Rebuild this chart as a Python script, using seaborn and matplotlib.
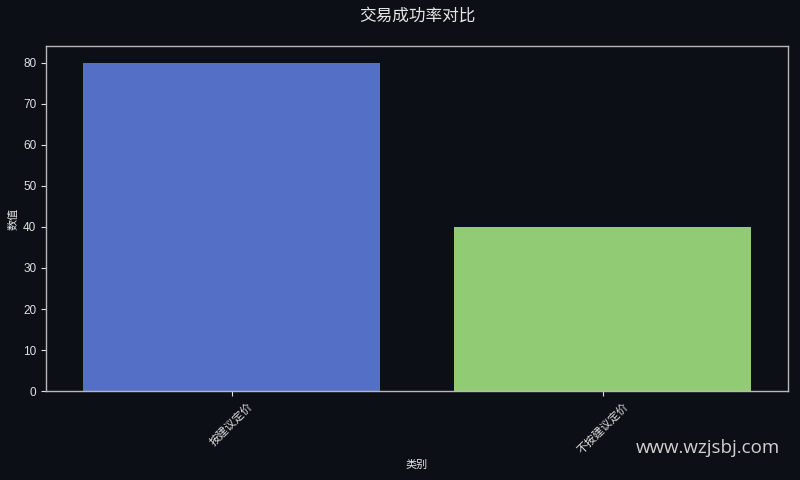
import pandas as pd
import matplotlib
matplotlib.use('Agg')
import matplotlib.pyplot as plt
import seaborn as sns

# 数据
categories = ['按建议定价', '不按建议定价']
values = [80, 40]
colors = ['#5470c6', '#91cc75']

bg = '#0c0f16'
sns.set_theme(style='dark', rc={
    'figure.facecolor': bg,
    'axes.facecolor': bg,
    'axes.edgecolor': '#b8b8b8',
    'axes.linewidth': 1.0,
    'text.color': '#e6e6e6',
    'axes.labelcolor': '#e6e6e6',
    'xtick.color': '#e0e0e0',
    'ytick.color': '#e0e0e0',
    'xtick.bottom': True,
    'ytick.left': True,
    'xtick.major.size': 3.5,
    'ytick.major.size': 3.5,
    'xtick.major.width': 0.8,
    'ytick.major.width': 0.8,
})
plt.rcParams['font.family'] = ['Liberation Sans', 'Noto Sans CJK SC', 'DejaVu Sans']
plt.rcParams['axes.unicode_minus'] = False

df = pd.DataFrame({'类别': categories, '数值': values})

fig, ax = plt.subplots(figsize=(8, 4.8), dpi=100)
fig.subplots_adjust(left=0.0575, right=0.985, top=0.904, bottom=0.185)

sns.barplot(data=df, x='类别', y='数值', hue='类别', palette=colors,
            legend=False, width=0.8, saturation=1, linewidth=0, ax=ax)

ax.set_title('交易成功率对比', fontsize=12, pad=18)
ax.set_xlabel('类别', fontsize=8, labelpad=3)
ax.set_ylabel('数值', fontsize=8, labelpad=3)
ax.tick_params(axis='y', labelsize=8.5)
ax.tick_params(axis='x', labelsize=8)
for lab in ax.get_xticklabels():
    lab.set_rotation(45)
for s in ax.spines.values():
    s.set_visible(True)
    s.set_color('#b8b8b8')

fig.text(0.975, 0.066, 'www.wzjsbj.com', ha='right', va='center',
         fontsize=13.5, color='#e6e6e6', alpha=0.9, family=['Open Sans', 'DejaVu Sans'])

plt.savefig('out.png', dpi=100, facecolor=bg)
